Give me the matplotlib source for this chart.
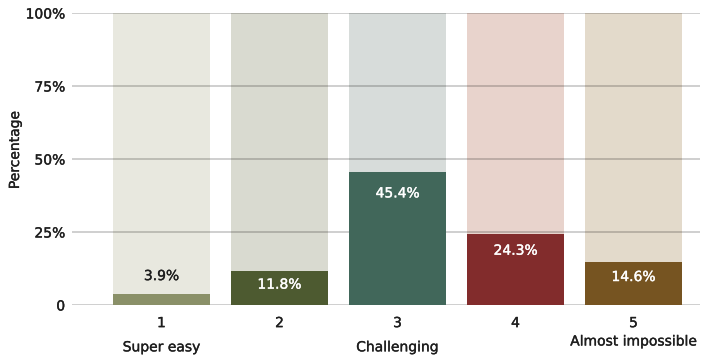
import numpy as np
import matplotlib.pyplot as plt
import matplotlib.patheffects as pe

plt.rcParams['font.family'] = ['DejaVu Sans']

# Difficulty ratings (1 = super easy ... 5 = almost impossible)
ratings = ['1', '2', '3', '4', '5']
shares = [3.9, 11.8, 45.4, 24.3, 14.6]
value_labels = ['3.9%', '11.8%', '45.4%', '24.3%', '14.6%']
scale_notes = {0: 'Super easy', 2: 'Challenging', 4: 'Almost impossible'}
yticks = [0, 25, 50, 75, 100]
ytick_labels = ['0', '25%', '50%', '75%', '100%']

bar_colors = ['#8a9068', '#4d5a30', '#41675a', '#822c2c', '#765421']
back_colors = ['#e8e8df', '#d9dad0', '#d7dcda', '#e8d3cc', '#e3dacb']

fs = 10
ink = '#1e1e1e'


def heavy(color):
    # thicken the glyphs a little (medium weight look)
    return [pe.withStroke(linewidth=0.25, foreground=color)]


fig = plt.figure(figsize=(7.01, 3.58), dpi=100)
ax = fig.add_axes([72 / 701, 53 / 358, 628 / 701, 292 / 358])

x = np.arange(len(ratings))
width = 0.82

# pale full-height bars, then grid, then the actual shares
ax.bar(x, [100] * len(x), width=width, color=back_colors, zorder=1)
for yt in yticks:
    ax.axhline(yt, color='black', alpha=0.22, linewidth=1.2, zorder=2)
ax.bar(x, shares, width=width, color=bar_colors, zorder=3)

for i, (v, lab) in enumerate(zip(shares, value_labels)):
    if v < 8:
        # too short to hold its label, so write it above
        ax.text(i, v + 6, lab, ha='center', va='center', fontsize=fs,
                color=ink, zorder=4, path_effects=heavy(ink))
    else:
        ax.text(i, v - (4 + 0.07 * v), lab, ha='center', va='center',
                fontsize=fs, color='white', zorder=4,
                path_effects=heavy('white'))

for i, note in scale_notes.items():
    ypos = -0.125 if i == 4 else -0.145
    ax.text(i, ypos, note, transform=ax.get_xaxis_transform(), ha='center',
            va='center', fontsize=fs, color=ink, path_effects=heavy(ink))

ax.set_xlim(-0.758, 4.564)
ax.set_ylim(0, 100)
ax.set_xticks(x)
ax.set_xticklabels(ratings)
ax.set_yticks(yticks)
ax.set_yticklabels(ytick_labels)
ax.tick_params(axis='both', length=0, labelsize=fs, labelcolor=ink)
ax.tick_params(axis='x', pad=8)
ax.tick_params(axis='y', pad=5)
for lbl in ax.get_xticklabels() + ax.get_yticklabels():
    lbl.set_path_effects(heavy(ink))
for s in ax.spines.values():
    s.set_visible(False)

fig.text(15 / 701, (358 - 150) / 358, 'Percentage', rotation=90,
         ha='center', va='center', fontsize=fs, color=ink,
         path_effects=heavy(ink))

fig.savefig('out.png', dpi=100)
